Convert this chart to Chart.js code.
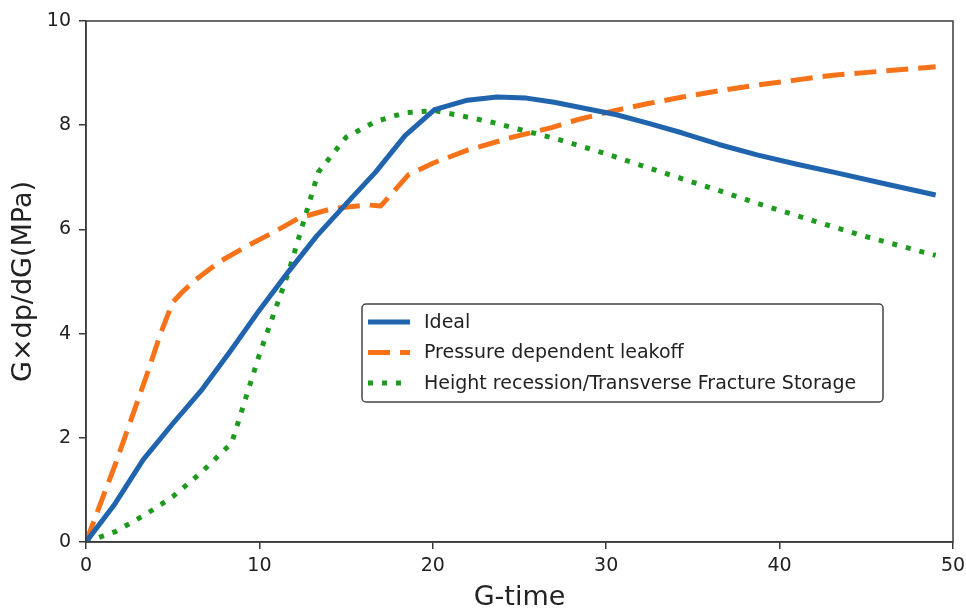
<!DOCTYPE html>
<html>
<head>
<meta charset="utf-8">
<script src="https://cdn.jsdelivr.net/npm/chart.js@4"></script>
<style>
  html, body { margin: 0; padding: 0; background: #fff; }
  #wrap { width: 966px; height: 611px; }
</style>
</head>
<body>
<div id="wrap"><canvas id="chart" width="966" height="611"></canvas></div>
<script>
// values
const idealX = [0, 1.6, 3.3, 5, 6.7, 8.3, 10, 11.7, 13.3, 15, 16.7, 18.4, 20.1, 22, 23.7, 25.4, 27, 30.6, 32.5, 34.4, 36.5, 38.7, 41, 43.1, 46, 49];
const idealY = [0, 0.7, 1.58, 2.27, 2.93, 3.65, 4.45, 5.2, 5.87, 6.49, 7.1, 7.8, 8.3, 8.48, 8.54, 8.52, 8.44, 8.2, 8.03, 7.85, 7.63, 7.43, 7.25, 7.1, 6.88, 6.66];

const leakX = [0, 1.7, 3.5, 4.3, 5, 5.5, 6.3, 7.7, 9.4, 10.9, 12.3, 14.2, 16.2, 17, 18.6, 20, 22, 24.6, 26.8, 28.5, 30.6, 32.5, 34.4, 36.5, 38.7, 41, 43.1, 46, 49];
const leakY = [0, 1.5, 3.2, 4.0, 4.6, 4.78, 5.03, 5.38, 5.7, 5.96, 6.22, 6.4, 6.47, 6.45, 7.05, 7.27, 7.52, 7.77, 7.95, 8.12, 8.29, 8.42, 8.54, 8.66, 8.77, 8.87, 8.96, 9.04, 9.12];

const heightX = [0, 1.7, 3.4, 5, 6.7, 8.4, 10, 11.7, 13.4, 15, 16.7, 18.4, 20.1, 21.8, 23.5, 25.2, 27, 30, 33, 36, 39, 42, 45, 47, 49];
const heightY = [0, 0.2, 0.52, 0.87, 1.35, 1.9, 3.6, 5.2, 7.1, 7.77, 8.07, 8.24, 8.28, 8.17, 8.05, 7.9, 7.75, 7.45, 7.12, 6.8, 6.47, 6.16, 5.86, 5.68, 5.5];

const seriesNames = ['Ideal', 'Pressure dependent leakoff', 'Height recession/Transverse Fracture Storage'];
const xTicks = [0, 10, 20, 30, 40, 50];
const yTicks = [0, 2, 4, 6, 8, 10];

function pairs(xs, ys) {
    return xs.map((x, i) => ({x: x, y: ys[i]}));
}

const axisColor = '#3a3a3a';
const textColor = '#222';
const fontFamily = "'DejaVu Sans', sans-serif";

// matplotlib style frame (top + right spines)
const framePlugin = {
    id: 'frame',
    afterDatasetsDraw(chart) {
        const {ctx, chartArea: a} = chart;
        ctx.save();
        ctx.strokeStyle = axisColor;
        ctx.lineWidth = 1.5;
        ctx.strokeRect(a.left, a.top, a.right - a.left, a.bottom - a.top);
        ctx.restore();
    }
};

// legend box inside the plot
const boxLegend = {
    id: 'boxLegend',
    afterDraw(chart) {
        const {ctx, chartArea: a} = chart;
        const left = a.left + 276;
        const top = a.top + 283;
        const bw = 521, bh = 98;
        ctx.save();
        ctx.fillStyle = 'rgba(255,255,255,0.9)';
        ctx.strokeStyle = '#444';
        ctx.lineWidth = 1.5;
        ctx.beginPath();
        ctx.roundRect(left, top, bw, bh, 4);
        ctx.fill();
        ctx.stroke();
        ctx.font = '19px ' + fontFamily;
        ctx.textBaseline = 'middle';
        chart.data.datasets.forEach((ds, i) => {
            const y = top + 18 + i * 30.5;
            ctx.strokeStyle = ds.borderColor;
            ctx.lineWidth = ds.borderWidth;
            ctx.lineCap = 'butt';
            ctx.setLineDash(ds.borderDash || []);
            ctx.beginPath();
            ctx.moveTo(left + 6, y);
            ctx.lineTo(left + 48, y);
            ctx.stroke();
            ctx.setLineDash([]);
            ctx.fillStyle = textColor;
            ctx.fillText(ds.label, left + 62, y + 1);
        });
        ctx.restore();
    }
};

const ctx = document.getElementById('chart').getContext('2d');
const myChart = new Chart(ctx, {
    type: 'line',
    data: {
        datasets: [{
            label: seriesNames[0],
            data: pairs(idealX, idealY),
            borderColor: '#1f64ad',
            borderWidth: 5,
        }, {
            label: seriesNames[1],
            data: pairs(leakX, leakY),
            borderColor: '#f7731a',
            borderWidth: 5,
            borderDash: [22, 10],
        }, {
            label: seriesNames[2],
            data: pairs(heightX, heightY),
            borderColor: '#1e9a1e',
            borderWidth: 5,
            borderDash: [5, 9],
        }]
    },
    options: {
        responsive: false,
        animation: false,
        events: [],
        layout: { padding: { left: 0, right: 13, top: 21, bottom: 0 } },
        elements: {
            point: { radius: 0 },
            line: { tension: 0, borderCapStyle: 'butt', borderJoinStyle: 'round', fill: false }
        },
        plugins: {
            legend: { display: false },
            tooltip: { enabled: false }
        },
        scales: {
            x: {
                type: 'linear',
                min: 0,
                max: 50,
                afterFit: (s) => { s.height = 69; s.paddingRight = 0; s.paddingLeft = 0; },
                afterBuildTicks: (s) => { s.ticks = xTicks.map(v => ({value: v})); },
                grid: { drawOnChartArea: false, drawTicks: true, tickLength: 7, color: axisColor, lineWidth: 1.5 },
                border: { display: true, color: axisColor, width: 1.5 },
                ticks: { color: textColor, padding: 6, font: { family: fontFamily, size: 19 }, maxRotation: 0 },
                title: { display: true, text: 'G-time', color: textColor, padding: { top: 0, bottom: 0 },
                         font: { family: fontFamily, size: 27, lineHeight: 1 } }
            },
            y: {
                type: 'linear',
                min: 0,
                max: 10,
                afterFit: (s) => { s.width = 86; },
                afterBuildTicks: (s) => { s.ticks = yTicks.map(v => ({value: v})); },
                grid: { drawOnChartArea: false, drawTicks: true, tickLength: 7, color: axisColor, lineWidth: 1.5 },
                border: { display: true, color: axisColor, width: 1.5 },
                ticks: { color: textColor, padding: 8, font: { family: fontFamily, size: 19 } },
                title: { display: true, text: 'G×dp/dG(MPa)', color: textColor, padding: { top: 10, bottom: 0 },
                         font: { family: fontFamily, size: 27, lineHeight: 1 } }
            }
        }
    },
    plugins: [framePlugin, boxLegend]
});
</script>
</body>
</html>
